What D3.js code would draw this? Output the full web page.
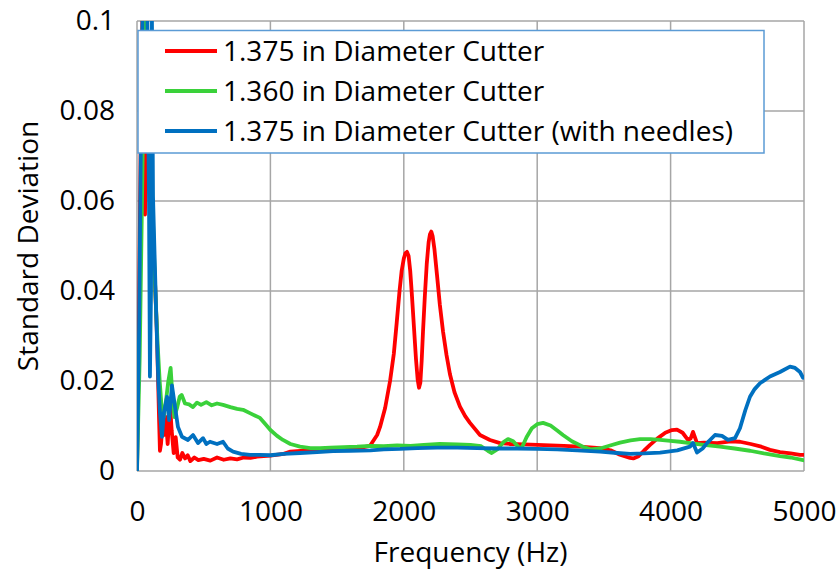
<!DOCTYPE html>
<html lang="en">
  <head>
    <meta charset="UTF-8" />
    <title>Standard Deviation vs Frequency</title>
    <script src="https://d3js.org/d3.v7.min.js"></script>
    <style>
      body {
        margin: 0;
        background: #fff;
      }
      text {
        font-family: "Open Sans", "DejaVu Sans", sans-serif;
        fill: #000;
      }
    </style>
  </head>
  <body>
    <div id="chart"></div>
    <script>
      // series labels
      const seriesNames = [
        "1.375 in Diameter Cutter",
        "1.360 in Diameter Cutter",
        "1.375 in Diameter Cutter (with needles)",
      ];
      const seriesColors = ["#ff0000", "#3ad13a", "#0070c0"];

      // 1.375 in cutter
      const redFreq = [0,15,30,45,60,75,90,105,120,135,150,165,172,180,190,200,215,230,247,260,275,290,305,322,340,360,380,400,430,460,500,550,600,650,700,750,800,850,900,950,1000,1100,1150,1250,1372,1500,1597,1700,1747,1800,1822,1860,1897,1925,1947,1968,1984,2000,2012,2024,2036,2048,2061,2076,2091,2104,2114,2124,2134,2144,2158,2172,2186,2196,2206,2216,2230,2249,2270,2294,2320,2346,2380,2421,2460,2496,2571,2646,2721,2800,2900,3000,3100,3200,3321,3471,3550,3620,3696,3720,3760,3800,3846,3900,3960,4010,4048,4090,4130,4150,4168,4198,4250,4350,4450,4520,4600,4680,4745,4820,4900,4970,5000];
      const redSd = [0,0.035,0.08,0.11,0.057,0.09,0.065,0.07,0.05,0.042,0.03,0.012,0.0045,0.006,0.01,0.008,0.012,0.006,0.015,0.009,0.004,0.0075,0.003,0.0025,0.004,0.0028,0.0035,0.0022,0.003,0.0024,0.0027,0.0023,0.003,0.0025,0.0028,0.0026,0.003,0.0029,0.0032,0.0033,0.0034,0.0038,0.0043,0.0045,0.0047,0.005,0.0052,0.0053,0.0056,0.008,0.0098,0.014,0.02,0.026,0.033,0.04,0.0445,0.0472,0.0484,0.0487,0.0478,0.0445,0.039,0.032,0.025,0.0203,0.0185,0.0196,0.0245,0.031,0.039,0.046,0.0508,0.0526,0.0532,0.0522,0.0492,0.0435,0.037,0.031,0.0258,0.0215,0.0175,0.0143,0.0122,0.0107,0.008,0.0069,0.0062,0.006,0.0059,0.0058,0.0057,0.0056,0.0054,0.0051,0.0046,0.0036,0.0029,0.0028,0.0033,0.0045,0.0058,0.0072,0.0085,0.0091,0.0092,0.0085,0.0069,0.0072,0.0087,0.0062,0.0063,0.0062,0.0066,0.0065,0.006,0.0054,0.0047,0.0042,0.0039,0.0036,0.0036];

      // 1.360 in cutter
      const greenFreq = [0,20,40,55,70,85,100,112,125,140,155,170,185,200,215,235,252,265,280,300,320,335,360,390,420,450,480,520,560,600,645,700,750,795,850,922,960,1000,1050,1094,1150,1222,1300,1372,1450,1550,1650,1750,1850,1950,2050,2150,2270,2400,2500,2580,2630,2659,2700,2750,2781,2820,2860,2884,2920,2960,3000,3044,3100,3150,3193,3260,3343,3400,3471,3540,3621,3700,3771,3850,3921,4000,4070,4145,4250,4370,4480,4595,4700,4820,4900,4993];
      const greenSd = [0,0.025,0.065,0.1,0.11,0.08,0.09,0.064,0.05,0.038,0.028,0.02,0.014,0.012,0.015,0.02,0.0229,0.017,0.012,0.014,0.0165,0.0169,0.015,0.0148,0.0142,0.0152,0.0147,0.0153,0.0146,0.015,0.0147,0.0142,0.0138,0.0136,0.0128,0.0118,0.0105,0.0091,0.0078,0.0069,0.006,0.0054,0.0051,0.0051,0.0052,0.0053,0.0054,0.0056,0.0055,0.0057,0.0056,0.0058,0.006,0.0059,0.0058,0.0055,0.0045,0.004,0.0048,0.0065,0.0071,0.0066,0.0053,0.0051,0.0075,0.0095,0.0104,0.0107,0.0101,0.009,0.008,0.0066,0.0054,0.0048,0.005,0.0056,0.0063,0.0068,0.0071,0.0071,0.0069,0.0067,0.0065,0.0062,0.0058,0.0054,0.005,0.0045,0.0039,0.0033,0.003,0.0024];

      // 1.375 in cutter with needles
      const blueFreq = [0,15,30,45,60,75,90,97,105,112,120,130,142,150,160,172,187,202,225,240,262,285,307,337,382,420,457,495,520,547,600,645,680,720,780,847,920,1000,1100,1222,1350,1470,1597,1750,1850,1972,2100,2250,2400,2550,2700,2850,3000,3150,3300,3471,3600,3696,3800,3921,4050,4145,4168,4198,4240,4273,4333,4385,4430,4483,4520,4560,4595,4630,4670,4745,4820,4895,4933,4970,4993];
      const blueSd = [0,0.03,0.075,0.11,0.12,0.11,0.06,0.021,0.04,0.1,0.061,0.05,0.037,0.029,0.02,0.013,0.0076,0.013,0.0165,0.0113,0.019,0.0143,0.0098,0.0076,0.0069,0.008,0.0062,0.0073,0.006,0.0065,0.006,0.0065,0.005,0.0043,0.0038,0.0036,0.0036,0.0035,0.0038,0.004,0.0042,0.0044,0.0045,0.0046,0.0048,0.0049,0.0051,0.0052,0.0052,0.0051,0.005,0.005,0.0049,0.0048,0.0046,0.0043,0.004,0.0038,0.0039,0.0041,0.0046,0.0054,0.0062,0.0041,0.005,0.0062,0.008,0.0078,0.0069,0.0073,0.0095,0.0135,0.0165,0.0182,0.0195,0.021,0.022,0.0232,0.0229,0.022,0.0207];

      const xTicks = [0, 1000, 2000, 3000, 4000, 5000];
      const yTicks = [0, 0.02, 0.04, 0.06, 0.08, 0.1];

      const width = 840;
      const height = 571;
      const margin = { top: 21, right: 36, bottom: 100, left: 137 };
      const gridColor = "#a6a6a6";

      const svg = d3
        .select("#chart")
        .append("svg")
        .attr("width", width)
        .attr("height", height);

      const x = d3
        .scaleLinear()
        .domain([0, 5000])
        .range([margin.left, width - margin.right]);
      const y = d3
        .scaleLinear()
        .domain([0, 0.1])
        .range([height - margin.bottom, margin.top]);

      // grid lines
      svg
        .append("g")
        .selectAll("line")
        .data(yTicks)
        .enter()
        .append("line")
        .attr("x1", x(0))
        .attr("x2", x(5000))
        .attr("y1", (d) => y(d))
        .attr("y2", (d) => y(d))
        .attr("stroke", gridColor)
        .attr("stroke-width", 1.5);

      svg
        .append("g")
        .selectAll("line")
        .data(xTicks)
        .enter()
        .append("line")
        .attr("x1", (d) => x(d))
        .attr("x2", (d) => x(d))
        .attr("y1", y(0))
        .attr("y2", y(0.1))
        .attr("stroke", gridColor)
        .attr("stroke-width", 1.5);

      // axes, labels only
      const xAxis = svg
        .append("g")
        .attr("transform", `translate(0,${y(0)})`)
        .call(d3.axisBottom(x).tickValues(xTicks).tickSize(0).tickPadding(30).tickFormat(d3.format("d")));
      const yAxis = svg
        .append("g")
        .attr("transform", `translate(${x(0)},0)`)
        .call(
          d3
            .axisLeft(y)
            .tickValues(yTicks)
            .tickSize(0)
            .tickPadding(22)
            .tickFormat((d) => (d === 0 ? "0" : String(+d.toFixed(2))))
        );
      [xAxis, yAxis].forEach((a) => {
        a.select(".domain").remove();
        a.selectAll("text")
          .attr("font-family", "'Open Sans', sans-serif")
          .attr("font-size", 28)
          .attr("fill", "#000");
      });

      // clip lines to plot area
      svg
        .append("clipPath")
        .attr("id", "plot-clip")
        .append("rect")
        .attr("x", x(0))
        .attr("y", y(0.1))
        .attr("width", x(5000) - x(0))
        .attr("height", y(0) - y(0.1));

      const line = d3
        .line()
        .x((d) => x(d[0]))
        .y((d) => y(d[1]));

      const series = [
        d3.zip(redFreq, redSd),
        d3.zip(greenFreq, greenSd),
        d3.zip(blueFreq, blueSd),
      ];

      svg
        .append("g")
        .attr("clip-path", "url(#plot-clip)")
        .selectAll("path")
        .data(series)
        .enter()
        .append("path")
        .attr("d", line)
        .attr("fill", "none")
        .attr("stroke", (d, i) => seriesColors[i])
        .attr("stroke-width", 3.8)
        .attr("stroke-linejoin", "round")
        .attr("stroke-linecap", "round");

      // axis titles
      svg
        .append("text")
        .attr("x", (x(0) + x(5000)) / 2)
        .attr("y", 562)
        .attr("text-anchor", "middle")
        .attr("font-size", 28)
        .text("Frequency (Hz)");

      svg
        .append("text")
        .attr("transform", `translate(38,${y(0.05)}) rotate(-90)`)
        .attr("text-anchor", "middle")
        .attr("font-size", 28)
        .text("Standard Deviation");

      // legend
      const legend = svg.append("g");
      legend
        .append("rect")
        .attr("x", 138)
        .attr("y", 30.5)
        .attr("width", 626)
        .attr("height", 122.5)
        .attr("fill", "#fff")
        .attr("stroke", "#5b9bd5")
        .attr("stroke-width", 1.5);

      const items = legend
        .selectAll(".legend-item")
        .data(seriesNames)
        .enter()
        .append("g")
        .attr("class", "legend-item")
        .attr("transform", (d, i) => `translate(0,${51 + i * 40})`);

      items
        .append("line")
        .attr("x1", 165)
        .attr("x2", 217)
        .attr("stroke", (d, i) => seriesColors[i])
        .attr("stroke-width", 4);

      items
        .append("text")
        .attr("x", 223)
        .attr("dy", "0.35em")
        .attr("font-size", 28)
        .text((d) => d);
    </script>
  </body>
</html>
